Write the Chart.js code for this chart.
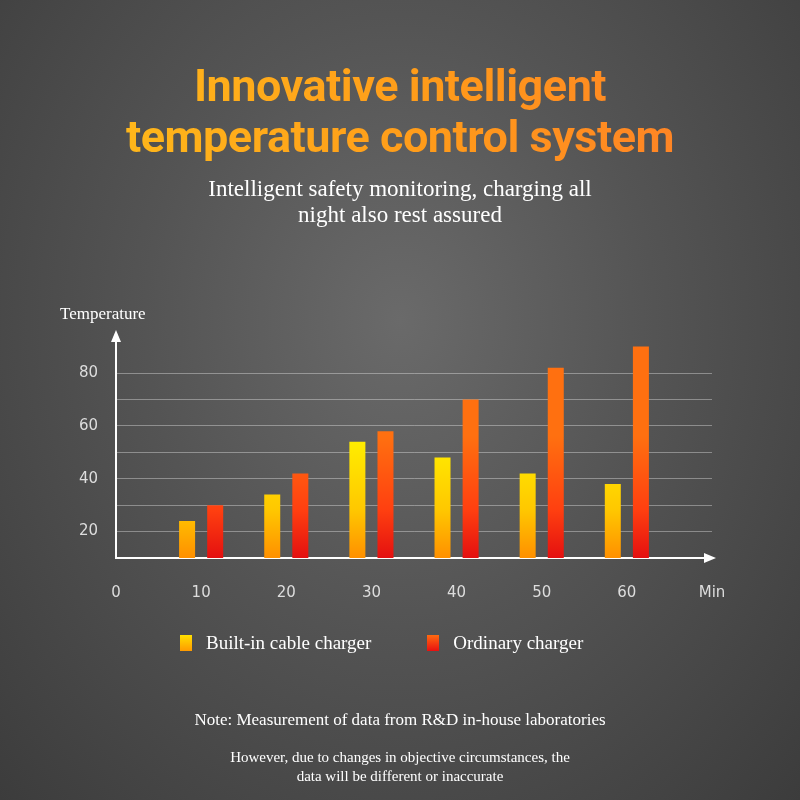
<!DOCTYPE html>
<html><head><meta charset="utf-8">
<script src="https://cdn.jsdelivr.net/npm/chart.js"></script>
<style>
html,body{margin:0;padding:0;}
#wrap{position:relative;width:800px;height:800px;overflow:hidden;
background:radial-gradient(ellipse at 50% 40%,#6a6a6a 0%,#545454 45%,#3c3c3c 100%);}
canvas{position:absolute;left:0;top:0;}
.t{position:absolute;left:0;width:800px;text-align:center;}
#title{top:60px;font-family:"Liberation Sans Narrow","Roboto",sans-serif;font-weight:bold;font-size:45px;line-height:51px;
background:linear-gradient(90deg,#ffc21a,#ff9a1a 55%,#ff7a2a);-webkit-background-clip:text;background-clip:text;color:transparent;letter-spacing:-0.5px;}
#sub{top:176px;font-family:"Liberation Serif",serif;color:#fff;font-size:23px;line-height:26px;}
#temp{position:absolute;left:60px;top:304px;font-family:"Liberation Serif",serif;color:#fff;font-size:17px;}
#legend{position:absolute;top:632px;left:180px;font-family:"Liberation Serif",serif;color:#fff;font-size:19px;}
.sw{display:inline-block;width:12px;height:16px;vertical-align:-2px;margin-right:14px;}
#n1{top:710px;font-family:"Liberation Serif",serif;color:#fff;font-size:17px;}
#n2{top:748px;font-family:"Liberation Serif",serif;color:#fff;font-size:15px;line-height:19px;}
</style></head><body>
<div id="wrap">
<canvas id="c" width="800" height="800"></canvas>
<div class="t" id="title">Innovative intelligent<br>temperature control system</div>
<div class="t" id="sub">Intelligent safety monitoring, charging all<br>night also rest assured</div>
<div id="temp">Temperature</div>
<div id="legend"><span class="sw" style="background:linear-gradient(#ffe000,#ff9a00)"></span>Built-in cable charger<span style="display:inline-block;width:56px"></span><span class="sw" style="background:linear-gradient(#ff6a10,#e81010)"></span>Ordinary charger</div>
<div class="t" id="n1">Note: Measurement of data from R&amp;D in-house laboratories</div>
<div class="t" id="n2">However, due to changes in objective circumstances, the<br>data will be different or inaccurate</div>
</div>
<script>
const minutes=[10,20,30,40,50,60];
const builtIn=[24,34,54,48,42,38];
const ordinary=[30,42,58,70,82,90];
const yLabels=[20,40,60,80];

function grad(ctx,top,mid,bot){
  const ch=ctx.chart, a=ch.chartArea; if(!a) return top;
  const g=ch.ctx.createLinearGradient(0,a.top+100,0,a.bottom);
  g.addColorStop(0,top); g.addColorStop(0.6,mid); g.addColorStop(1,bot); return g;
}
const arrows={id:'arrows',afterDraw(ch){
  const c=ch.ctx,a=ch.chartArea;c.save();c.fillStyle='#fff';
  c.beginPath();c.moveTo(a.left,a.top-6);c.lineTo(a.left-5,a.top+6);c.lineTo(a.left+5,a.top+6);c.fill();
  c.beginPath();c.moveTo(a.right+4,a.bottom);c.lineTo(a.right-8,a.bottom-5);c.lineTo(a.right-8,a.bottom+5);c.fill();
  c.restore();}};
new Chart(document.getElementById('c'),{
  type:'bar',
  data:{datasets:[
    {label:'Built-in cable charger',data:minutes.map((m,i)=>({x:m,y:builtIn[i]})),
     backgroundColor:ctx=>grad(ctx,'#fff000','#ffc800','#ff9000')},
    {label:'Ordinary charger',data:minutes.map((m,i)=>({x:m,y:ordinary[i]})),
     backgroundColor:ctx=>grad(ctx,'#ff7010','#ff4010','#e41010')}]},
  options:{responsive:false,animation:false,
    categoryPercentage:0.66,barPercentage:0.57,
    layout:{padding:{left:0,right:88,top:336,bottom:0}},
    plugins:{legend:{display:false},tooltip:{enabled:false}},
    scales:{
      x:{type:'linear',min:0,max:70,offset:false,
        afterFit(s){s.height=242;},
        grid:{display:false,drawTicks:false},
        border:{color:'#fff',width:2},
        ticks:{stepSize:10,padding:26,color:'#ddd',font:{family:'DejaVu Sans',size:15},
          callback:v=>v===70?'Min':String(v)}},
      y:{min:10,max:94,
        afterFit(s){s.width=116;},
        grid:{drawTicks:false,color:c=>(c.tick&&c.tick.value%10===0&&c.tick.value>10)?'rgba(255,255,255,0.35)':'transparent',lineWidth:1},
        border:{color:'#fff',width:2},
        ticks:{stepSize:10,padding:18,color:'#ddd',font:{family:'DejaVu Sans',size:15},
          callback:v=>yLabels.includes(v)?String(v):''}}}},
  plugins:[arrows]});
</script>
</body></html>
